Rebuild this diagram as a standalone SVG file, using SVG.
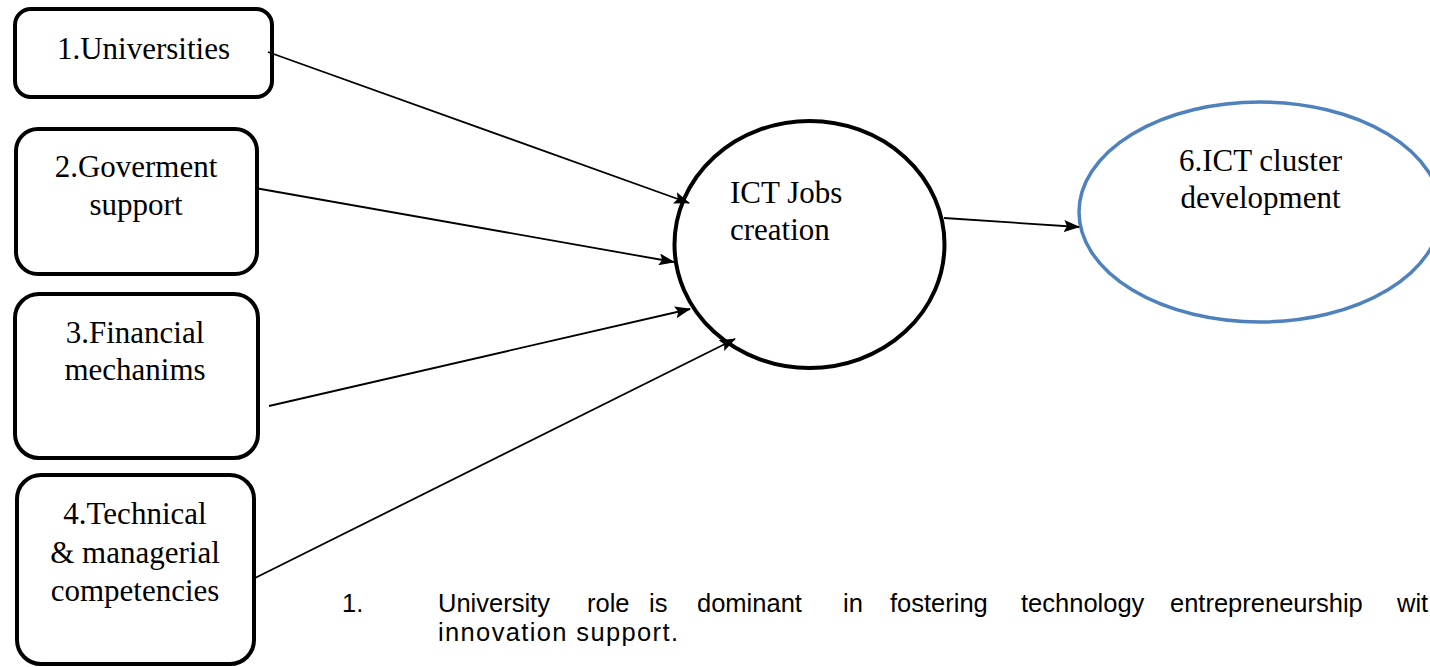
<svg xmlns="http://www.w3.org/2000/svg" width="1430" height="667" viewBox="0 0 1430 667">
<style>
.box{fill:#fff;stroke:#000;stroke-width:4}
.lbl{font-family:"Liberation Serif","Times New Roman",serif;font-size:31px;fill:#000}
.c{text-anchor:middle}
.conn line{stroke:#000;stroke-width:1.8;marker-end:url(#ah)}
.note{font-family:"Liberation Sans",Arial,sans-serif;font-size:25.5px;fill:#000}
</style>
<defs>
<marker id="ah" markerUnits="userSpaceOnUse" markerWidth="16" markerHeight="12" refX="15" refY="6" orient="auto">
<path d="M0,0 L16,6 L0,12 L3,6 Z" fill="#000"/>
</marker>
</defs>
<rect width="1430" height="667" fill="#fff"/>
<g id="n1">
<rect class="box" x="15" y="9" width="257" height="88" rx="16"/>
<text class="lbl c" x="143.5" y="59">1.Universities</text>
</g>
<g id="n2">
<rect class="box" x="16" y="129" width="241" height="145" rx="22"/>
<text class="lbl c" x="136" y="177">2.Goverment</text>
<text class="lbl c" x="136" y="215">support</text>
</g>
<g id="n3">
<rect class="box" x="15" y="294" width="243" height="164" rx="24"/>
<text class="lbl c" x="135" y="343">3.Financial</text>
<text class="lbl c" x="135" y="380">mechanims</text>
</g>
<g id="n4">
<rect class="box" x="17" y="475" width="237" height="189" rx="24"/>
<text class="lbl c" x="135" y="524">4.Technical</text>
<text class="lbl c" x="135" y="563">&amp; managerial</text>
<text class="lbl c" x="135" y="601">competencies</text>
</g>
<g id="n5">
<ellipse cx="809.5" cy="244.5" rx="135" ry="123.5" fill="#fff" stroke="#000" stroke-width="4"/>
<text class="lbl" x="730" y="203">ICT Jobs</text>
<text class="lbl" x="730" y="240">creation</text>
</g>
<g id="n6">
<ellipse cx="1260" cy="212" rx="181" ry="110" fill="#fff" stroke="#4F81BD" stroke-width="3.5"/>
<text class="lbl c" x="1260.5" y="171">6.ICT cluster</text>
<text class="lbl c" x="1260.5" y="208">development</text>
</g>
<g id="connectors" class="conn">
<line x1="268" y1="52" x2="689" y2="203"/>
<line x1="255" y1="188" x2="674" y2="262"/>
<line x1="269" y1="406" x2="690" y2="309"/>
<line x1="255" y1="578" x2="735" y2="339"/>
<line x1="944" y1="218" x2="1079" y2="227"/>
</g>
<g id="note">
<text class="note" y="612"><tspan x="342">1.</tspan><tspan x="438">University</tspan><tspan x="587">role</tspan><tspan x="649">is</tspan><tspan x="697">dominant</tspan><tspan x="843">in</tspan><tspan x="890">fostering</tspan><tspan x="1021">technology</tspan><tspan x="1170">entrepreneurship</tspan><tspan x="1397">wit</tspan><tspan x="438" y="641" textLength="240" lengthAdjust="spacing">innovation support.</tspan></text>
</g>
</svg>
